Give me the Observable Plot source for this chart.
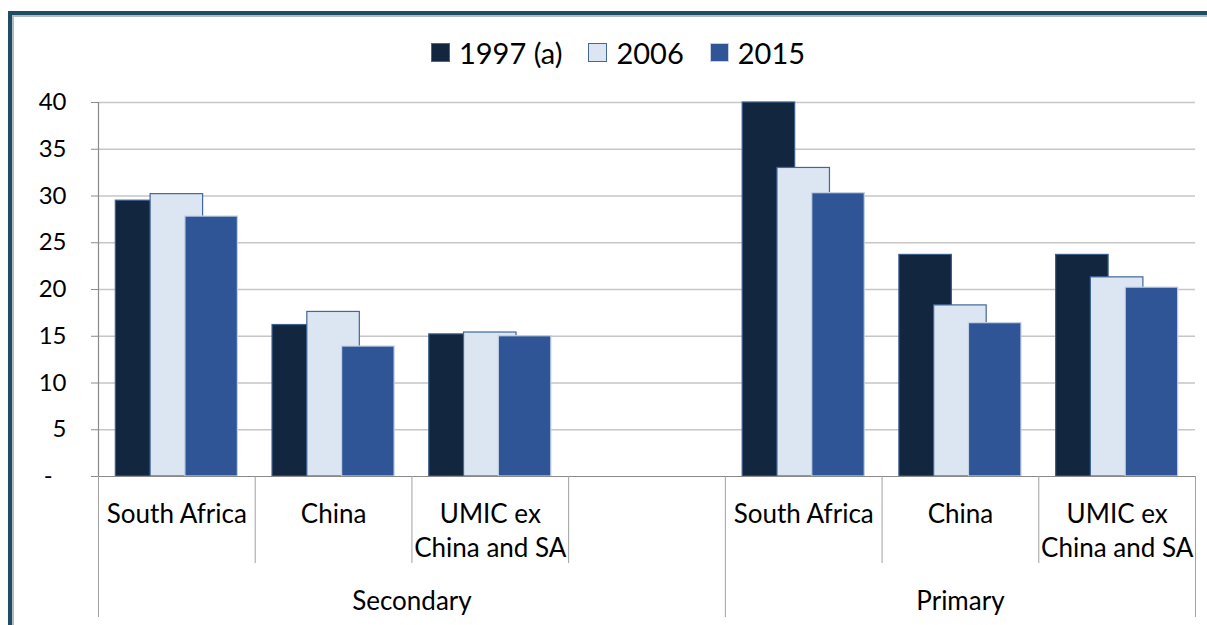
<!DOCTYPE html>
<html><head><meta charset="utf-8">
<script src="https://cdn.jsdelivr.net/npm/d3@7"></script>
<script src="https://cdn.jsdelivr.net/npm/@observablehq/plot@0.6"></script>
<style>
html,body{margin:0;padding:0;background:#fff;width:1207px;height:625px;overflow:hidden;font-family:Lato,"Open Sans",sans-serif;}
#frame{position:absolute;left:8px;top:11px;width:1300px;height:700px;border-top:4px solid #1d4e66;border-left:4px solid #1d4e66;box-shadow:inset 2px 2px 0 #b4bcc2;}
#legend{position:absolute;top:0;left:0;width:1207px;height:80px;display:flex;justify-content:center;align-items:flex-start;padding-top:37px;padding-left:29px;box-sizing:border-box;font-size:29px;color:#000;}
#legend .item{display:flex;align-items:center;margin:0 13px;height:30px;}
#legend .sw{width:19px;height:19px;box-sizing:border-box;margin-right:9px;}
#chart{position:absolute;top:80px;left:0;}
</style>
</head><body>
<div id="frame"></div>
<div id="legend"></div>
<div id="chart"></div>
<script>
// ---- data ----
const slots = ["South Africa", "China", "UMIC ex\nChina and SA", "", "South Africa", "China", "UMIC ex\nChina and SA"];
const groups = ["Secondary", "Primary"];
const groupSpan = [[0, 4], [4, 7]];
const series = ["1997 (a)", "2006", "2015"];
const colors = ["#13263f", "#dce6f2", "#2f5597"];
const strokes = ["#3d5f8c", "#41679c", "#c3d1e6"];
const v1997 = [29.5, 16.2, 15.2, null, 40.0, 23.7, 23.7];
const v2006 = [30.2, 17.6, 15.4, null, 33.0, 18.3, 21.3];
const v2015 = [27.8, 13.9, 15.0, null, 30.3, 16.4, 20.2];
const yTicks = [0, 5, 10, 15, 20, 25, 30, 35, 40];

// ---- legend ----
const leg = document.getElementById("legend");
series.forEach((s, k) => {
  const it = document.createElement("div"); it.className = "item";
  const sw = document.createElement("div"); sw.className = "sw";
  sw.style.background = colors[k]; sw.style.border = "1px solid " + (k === 2 ? "#c3d1e6" : "#41679c");
  const tx = document.createElement("span"); tx.textContent = s;
  it.appendChild(sw); it.appendChild(tx); leg.appendChild(it);
});

// ---- bar table ----
const values = [v1997, v2006, v2015];
const barW = 0.335, step = 0.222, off = (1 - (barW + 2 * step)) / 2;
const bars = series.map((s, k) => slots.map((c, i) => values[k][i] == null ? null : {
  slot: i, series: s, value: values[k][i],
  x1: i + off + k * step, x2: i + off + k * step + barW
}).filter(d => d));

const W = 1207, H = 545, mT = 22, mB = 149, mL = 98, mR = 12;
const plotH = H - mT - mB;
const labels = slots.map((t, i) => ({i, t})).filter(d => d.t);
const gLabels = groups.map((g, j) => ({g, x: (groupSpan[j][0] + groupSpan[j][1]) / 2}));

const chart = Plot.plot({
  width: W, height: H,
  marginTop: mT, marginBottom: mB, marginLeft: mL, marginRight: mR,
  style: {fontFamily: "Lato, 'Open Sans', sans-serif", background: "transparent", overflow: "visible"},
  x: {type: "linear", domain: [0, slots.length], axis: null},
  y: {domain: [0, 40], axis: null},
  marks: [
    Plot.gridY(yTicks.filter(d => d > 0), {stroke: "#c6c6c6", strokeOpacity: 1, strokeWidth: 1.5}),
    ...bars.map((b, k) => Plot.rectY(b, {x1: "x1", x2: "x2", y: "value", fill: colors[k], stroke: strokes[k], strokeWidth: 1.2})),
    Plot.ruleY([0], {stroke: "#8a8a8a", strokeWidth: 1.2}),
    Plot.ruleX([0], {stroke: "#8a8a8a", strokeWidth: 1.2}),
    Plot.axisY(yTicks, {label: null, tickSize: 7, tickPadding: 25, stroke: "#8a8a8a", fill: "#000", fontSize: 24,
      tickFormat: d => d === 0 ? "-\u2007" : String(d)}),
    // category separators
    Plot.ruleX([1, 2, 3, 5, 6], {stroke: "#a0a0a0", insetTop: plotH, insetBottom: -87}),
    Plot.ruleX([0, 4, 7], {stroke: "#a0a0a0", insetTop: plotH, insetBottom: -141}),
    Plot.text(labels, {x: d => d.i + 0.5, text: "t", frameAnchor: "bottom", lineAnchor: "top", dy: 22,
      fontSize: 26, lineHeight: 1.31, fill: "#000"}),
    Plot.text(gLabels, {x: "x", text: "g", frameAnchor: "bottom", lineAnchor: "top", dy: 115,
      fontSize: 26, fill: "#000"})
  ]
});
document.getElementById("chart").appendChild(chart);
</script>
</body></html>
